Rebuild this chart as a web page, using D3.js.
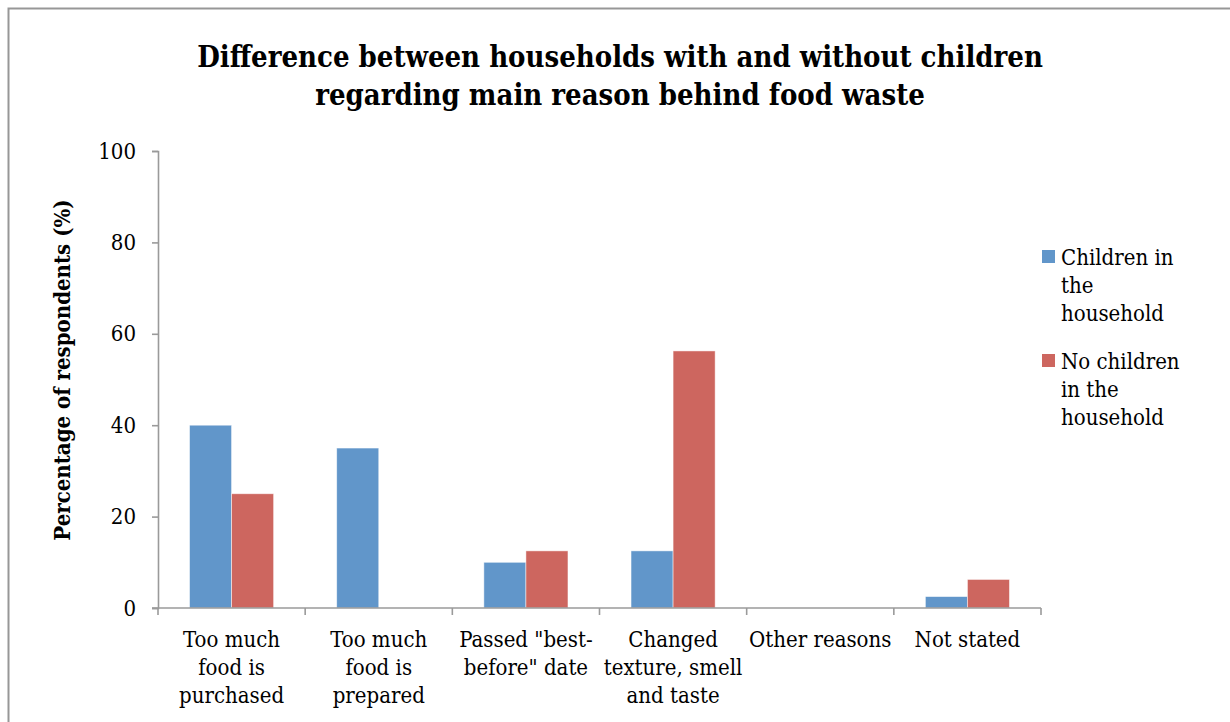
<!DOCTYPE html>
<html>
<head>
<meta charset="utf-8">
<script src="https://cdn.jsdelivr.net/npm/d3@7"></script>
<style>
  html, body { margin: 0; padding: 0; background: #fff; }
  svg { display: block; }
  text { font-family: "DejaVu Serif Condensed", "DejaVu Serif", "Liberation Serif", serif; fill: #000; }
</style>
</head>
<body>
<svg id="chart" width="1230" height="722"></svg>
<script>
// Main reason behind food waste, by household type (% of respondents)
const categories = [
  ["Too much", "food is", "purchased"],
  ["Too much", "food is", "prepared"],
  ["Passed \"best-", "before\" date"],
  ["Changed", "texture, smell", "and taste"],
  ["Other reasons"],
  ["Not stated"]
];
const seriesNames = ["Children in the household", "No children in the household"];
const legendLines = [["Children in", "the", "household"], ["No children", "in the", "household"]];
const withChildren = [40, 35, 10, 12.5, 0, 2.5];
const withoutChildren = [25, 0, 12.5, 56.25, 0, 6.25];
const yTicks = [0, 20, 40, 60, 80, 100];
const titleLines = [
  "Difference between households with and without children",
  "regarding main reason behind food waste"
];
const yTitle = "Percentage of respondents (%)";
const colors = ["#6196CA", "#CD665F"];

const svg = d3.select("#chart");
const axisColor = "#9a9a9a";

// chart frame
svg.append("rect")
  .attr("x", 8.5).attr("y", 8.5).attr("width", 1240).attr("height", 740)
  .attr("fill", "none").attr("stroke", "#979797").attr("stroke-width", 2);

const plot = { left: 158, right: 1041, top: 151, bottom: 608 };
const catKeys = categories.map((c, i) => i);

const x0 = d3.scaleBand().domain(catKeys).range([plot.left, plot.right]).padding(0);
const x1 = d3.scaleBand().domain([0, 1]).range([0, x0.bandwidth()]).paddingInner(0).paddingOuter(0.75);
const y = d3.scaleLinear().domain([0, 100]).range([plot.bottom, plot.top]);

// title
const title = svg.append("text")
  .attr("x", 620).attr("text-anchor", "middle")
  .style("font-weight", "bold").style("font-size", "29px");
title.selectAll("tspan").data(titleLines).join("tspan")
  .attr("x", 620).attr("y", (d, i) => 67 + i * 38).text(d => d);

// bars
const data = catKeys.map(i => [withChildren[i], withoutChildren[i]]);
const groups = svg.append("g").selectAll("g").data(data).join("g")
  .attr("transform", (d, i) => `translate(${x0(i)},0)`);
groups.selectAll("rect").data(d => d.map((v, s) => ({ v, s }))).join("rect")
  .attr("x", d => x1(d.s))
  .attr("width", x1.bandwidth())
  .attr("y", d => y(d.v))
  .attr("height", d => y(0) - y(d.v))
  .attr("fill", d => colors[d.s])
  .attr("stroke", d => d.v > 0 ? "rgba(255,255,255,0.6)" : "none")
  .attr("stroke-width", 0.8);

// y axis
const yAxis = svg.append("g").attr("transform", `translate(${plot.left},0)`)
  .call(d3.axisLeft(y).tickValues(yTicks).tickSize(6).tickPadding(16).tickFormat(d3.format("d")));
yAxis.select(".domain").attr("stroke", axisColor).attr("stroke-width", 1.6);
yAxis.selectAll(".tick line").attr("stroke", axisColor).attr("stroke-width", 1.6);
yAxis.selectAll(".tick text").style("font-size", "22px").style("font-family", null).attr("fill", "#000");

// x axis line and category separators
const xAxis = svg.append("g").attr("transform", `translate(0,${plot.bottom})`);
xAxis.append("line").attr("x1", plot.left - 6).attr("x2", plot.right)
  .attr("stroke", axisColor).attr("stroke-width", 1.6);
const bounds = catKeys.map(i => x0(i)).concat([plot.right]);
xAxis.selectAll("line.sep").data(bounds).join("line").attr("class", "sep")
  .attr("x1", d => d).attr("x2", d => d).attr("y1", 0).attr("y2", 7)
  .attr("stroke", axisColor).attr("stroke-width", 1.6);

// category labels
const labels = svg.append("g").selectAll("text").data(catKeys).join("text")
  .attr("text-anchor", "middle").style("font-size", "22px");
labels.each(function (i) {
  const cx = x0(i) + x0.bandwidth() / 2;
  d3.select(this).selectAll("tspan").data(categories[i]).join("tspan")
    .attr("x", cx).attr("y", (d, k) => 647 + k * 28).text(d => d);
});

// y axis title
svg.append("text")
  .attr("transform", "translate(70,370) rotate(-90)")
  .attr("text-anchor", "middle")
  .style("font-weight", "bold").style("font-size", "22px")
  .text(yTitle);

// legend
const legend = svg.append("g").selectAll("g").data(seriesNames).join("g")
  .attr("transform", (d, i) => `translate(1042,${250 + i * 104})`);
legend.append("rect").attr("width", 13).attr("height", 13).attr("fill", (d, i) => colors[i]);
legend.append("text").style("font-size", "22px")
  .selectAll("tspan").data((d, i) => legendLines[i]).join("tspan")
  .attr("x", 19).attr("y", (d, k) => 15 + k * 28).text(d => d);
</script>
</body>
</html>
